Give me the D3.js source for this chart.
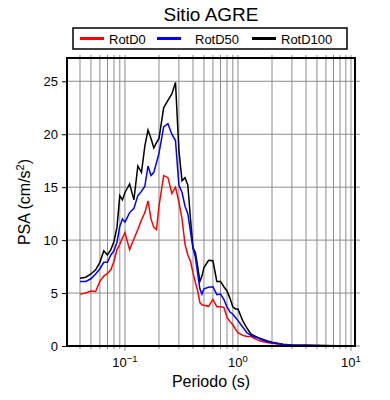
<!DOCTYPE html>
<html>
<head>
<meta charset="utf-8">
<script src="https://cdn.jsdelivr.net/npm/d3@7/dist/d3.min.js"></script>
<style>
body { margin: 0; background: #fff; }
svg { font-family: "Liberation Sans", Arial, sans-serif; }
</style>
</head>
<body>
<div id="chart"></div>
<script>
// periods (s)
var periods = [0.04, 0.045, 0.05, 0.055, 0.06, 0.065, 0.07, 0.075, 0.08, 0.085, 0.09, 0.095,
	0.1, 0.11, 0.12, 0.13, 0.14, 0.15, 0.16, 0.17, 0.18, 0.19, 0.2, 0.22, 0.24, 0.26, 0.28,
	0.3, 0.32, 0.34, 0.36, 0.38, 0.4, 0.42, 0.44, 0.46, 0.48, 0.5, 0.55, 0.6, 0.65, 0.7,
	0.75, 0.8, 0.85, 0.9, 0.95, 1.0, 1.1, 1.2, 1.3, 1.4, 1.5, 1.6, 1.8, 2.0, 2.5, 3.0,
	4.0, 5.0, 6.0, 7.5, 10.0, 10.8];

var rotD0 = [4.9, 5.0, 5.2, 5.15, 6.1, 6.6, 6.85, 7.2, 8.0, 9.1, 9.6, 10.2,
	10.7, 9.1, 10.1, 11.0, 11.9, 12.6, 13.7, 12.0, 11.2, 11.0, 13.2, 16.1, 15.9, 14.4, 15.0,
	13.6, 12.0, 9.6, 8.6, 8.0, 6.9, 6.0, 5.2, 4.1, 3.9, 3.85, 3.75, 4.4, 3.7, 3.7,
	3.65, 2.7, 2.3, 2.0, 1.6, 1.25, 1.0, 0.9, 0.9, 0.7, 0.55, 0.45, 0.32, 0.25, 0.14, 0.08,
	0.05, 0.04, 0.03, 0.03, 0.02, 0.02];

var rotD50 = [6.1, 6.1, 6.35, 6.8, 7.3, 7.9, 7.9, 8.6, 9.0, 9.8, 11.3, 12.0,
	11.7, 12.6, 13.0, 14.2, 14.6, 15.1, 17.0, 16.1, 16.4, 17.3, 18.2, 20.7, 21.0, 20.0, 19.4,
	15.2, 14.5, 13.2, 12.5, 10.8, 9.2, 8.4, 6.8, 5.4, 4.9, 5.4, 5.55, 5.6, 4.85, 4.9,
	4.4, 3.7, 3.2, 3.0, 2.7, 2.4, 1.8, 1.25, 1.0, 0.85, 0.75, 0.6, 0.42, 0.3, 0.15, 0.09,
	0.06, 0.04, 0.035, 0.03, 0.02, 0.02];

var rotD100 = [6.4, 6.5, 6.8, 7.2, 7.9, 9.0, 8.6, 9.1, 9.9, 11.2, 14.2, 13.8,
	14.5, 15.3, 13.8, 17.0, 16.4, 18.9, 20.4, 19.6, 18.7, 19.2, 19.6, 22.5, 23.2, 23.8, 24.9,
	18.5, 15.6, 15.9, 15.2, 12.0, 9.3, 8.8, 7.5, 6.1, 6.6, 7.4, 8.1, 8.05, 6.1, 6.1,
	5.6, 5.2, 4.5, 3.7, 3.5, 3.5, 2.4, 1.7, 1.15, 0.95, 0.8, 0.7, 0.5, 0.35, 0.17, 0.1,
	0.07, 0.05, 0.04, 0.03, 0.03, 0.03];

var seriesNames = ['RotD0', 'RotD50', 'RotD100'];
var seriesColors = ['#ff0000', '#0000ff', '#000000'];
var yTicks = [0, 5, 10, 15, 20, 25];
var xTickExps = [-1, 0, 1];

var width = 390, height = 400;
var margin = {top: 58, right: 35, bottom: 54, left: 67};
var chartWidth = width - margin.left - margin.right;
var chartHeight = height - margin.top - margin.bottom;

var series = [
	{name: seriesNames[2], color: seriesColors[2], values: rotD100},
	{name: seriesNames[0], color: seriesColors[0], values: rotD0},
	{name: seriesNames[1], color: seriesColors[1], values: rotD50}
];

var svg = d3.select('#chart').append('svg')
	.attr('width', width)
	.attr('height', height);

var g = svg.append('g')
	.attr('transform', `translate(${margin.left}, ${margin.top})`);

var xScale = d3.scaleLog()
	.domain([0.0307, 10.85])
	.range([0, chartWidth]);

var yScale = d3.scaleLinear()
	.domain([0, 27.2])
	.range([chartHeight, 0]);

// all 1..9 x 10^k values inside the domain
var gridX = [];
for (var k = -2; k <= 1; k++) {
	for (var m = 1; m <= 9; m++) {
		var v = m * Math.pow(10, k);
		if (v >= xScale.domain()[0] && v <= xScale.domain()[1]) gridX.push(v);
	}
}

// vertical grid, sticking out a little as ticks top and bottom
g.selectAll('.vgrid')
	.data(gridX)
	.enter()
	.append('line')
	.attr('class', 'vgrid')
	.attr('x1', d => xScale(d))
	.attr('x2', d => xScale(d))
	.attr('y1', -3)
	.attr('y2', d => chartHeight + (Math.log10(d) % 1 === 0 ? 5 : 3))
	.attr('stroke', '#8c8c8c')
	.attr('stroke-width', 1);

// horizontal grid, sticking out on the right
g.selectAll('.hgrid')
	.data(yTicks)
	.enter()
	.append('line')
	.attr('class', 'hgrid')
	.attr('x1', 0)
	.attr('x2', chartWidth + 5)
	.attr('y1', d => yScale(d))
	.attr('y2', d => yScale(d))
	.attr('stroke', '#8c8c8c')
	.attr('stroke-width', 1);

g.append('clipPath')
	.attr('id', 'clip')
	.append('rect')
	.attr('width', chartWidth)
	.attr('height', chartHeight);

var line = d3.line()
	.x((d, i) => xScale(periods[i]))
	.y(d => yScale(d));

g.append('g')
	.attr('clip-path', 'url(#clip)')
	.selectAll('.curve')
	.data(series)
	.enter()
	.append('path')
	.attr('class', 'curve')
	.attr('d', d => line(d.values))
	.attr('fill', 'none')
	.attr('stroke', d => d.color)
	.attr('stroke-width', 1.5)
	.attr('stroke-linejoin', 'miter');

// frame
g.append('rect')
	.attr('width', chartWidth)
	.attr('height', chartHeight)
	.attr('fill', 'none')
	.attr('stroke', '#000')
	.attr('stroke-width', 2);

// y axis ticks + labels
var yAxis = d3.axisLeft(yScale)
	.tickValues(yTicks)
	.tickSize(5)
	.tickPadding(4);

g.append('g')
	.attr('class', 'y axis')
	.call(yAxis)
	.call(s => s.select('.domain').remove())
	.call(s => s.selectAll('text').attr('font-size', 13).attr('font-family', null).attr('fill', '#000'))
	.call(s => s.selectAll('line').attr('stroke', '#000'));

// x labels as powers of ten
var xLabels = g.append('g')
	.attr('class', 'x axis')
	.selectAll('text')
	.data(xTickExps)
	.enter()
	.append('text')
	.attr('x', d => xScale(Math.pow(10, d)))
	.attr('y', chartHeight + 21)
	.attr('text-anchor', 'middle')
	.attr('font-size', 13);
xLabels.append('tspan').text('10');
xLabels.append('tspan')
	.attr('dy', -5)
	.attr('font-size', 9.5)
	.text(d => String(d).replace('-', '\u2212'));

// axis titles
g.append('text')
	.attr('x', chartWidth / 2)
	.attr('y', chartHeight + 41)
	.attr('text-anchor', 'middle')
	.attr('font-size', 16)
	.text('Periodo (s)');

var yLabel = g.append('text')
	.attr('transform', `translate(-37, ${chartHeight / 2}) rotate(-90)`)
	.attr('text-anchor', 'middle')
	.attr('font-size', 16);
yLabel.append('tspan').text('PSA (cm/s');
yLabel.append('tspan').attr('dy', -6).attr('font-size', 11).text('2');
yLabel.append('tspan').attr('dy', 6).text(')');

// title
svg.append('text')
	.attr('x', margin.left + chartWidth / 2)
	.attr('y', 21)
	.attr('text-anchor', 'middle')
	.attr('font-size', 19)
	.text('Sitio AGRE');

// legend
var legend = svg.append('g').attr('class', 'legend');
legend.append('rect')
	.attr('x', 73)
	.attr('y', 28)
	.attr('width', 274)
	.attr('height', 21)
	.attr('fill', '#fff')
	.attr('stroke', '#000')
	.attr('stroke-width', 1.5);

var legendX = [80, 157, 252];
var items = legend.selectAll('.item')
	.data(seriesNames)
	.enter()
	.append('g')
	.attr('class', 'item')
	.attr('transform', (d, i) => `translate(${legendX[i]}, 38.5)`);
items.append('line')
	.attr('x1', 0)
	.attr('x2', 24)
	.attr('stroke', (d, i) => seriesColors[i])
	.attr('stroke-width', 3);
items.append('text')
	.attr('x', (d, i) => i === 1 ? 38 : 29)
	.attr('y', 5)
	.attr('font-size', 13)
	.text(d => d);
</script>
</body>
</html>
